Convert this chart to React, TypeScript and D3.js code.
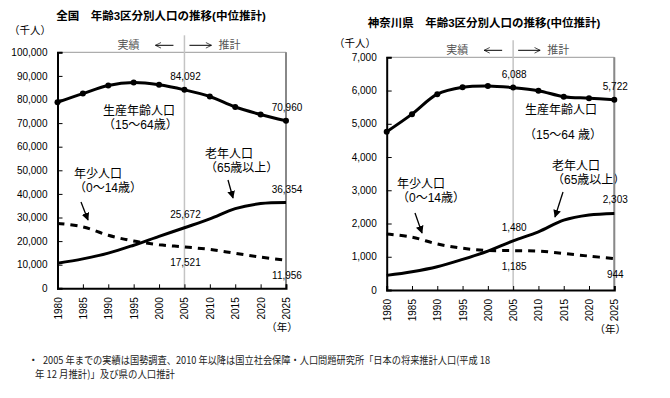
import { useRef, useEffect } from "react";
import * as d3 from "d3";

const YEARS = [1980, 1985, 1990, 1995, 2000, 2005, 2010, 2015, 2020, 2025];

// 全国 (千人)
const JP_WORKING = [78835, 82506, 85904, 87165, 86220, 84092, 81285, 76807, 73635, 70960];
const JP_ELDERLY = [10647, 12468, 14895, 18261, 22005, 25672, 29412, 33781, 35899, 36354];
const JP_YOUNG = [27507, 26033, 22486, 20014, 18472, 17521, 16479, 14841, 13201, 11956];
const JP_Y_TICKS = d3.range(0, 100001, 10000);

// 神奈川県 (千人)
const KN_WORKING = [4760, 5290, 5890, 6100, 6140, 6088, 5995, 5815, 5770, 5722];
const KN_ELDERLY = [440, 550, 700, 920, 1170, 1480, 1750, 2100, 2255, 2303];
const KN_YOUNG = [1685, 1590, 1385, 1255, 1190, 1185, 1170, 1100, 1020, 944];
const KN_Y_TICKS = d3.range(0, 7001, 1000);

const FONT = "'Liberation Sans', Arial, 'Noto Sans CJK JP', sans-serif";

interface Note {
  lines: string[];
  x: number;
  y: number;
  arrow: [number, number, number, number];
}

interface ChartProps {
  id: string;
  title: string;
  titleX: number;
  titleY: number;
  unitX: number;
  unitY: number;
  left: number;
  right: number;
  top: number;
  bottom: number;
  yMax: number;
  yTicks: number[];
  working: number[];
  elderly: number[];
  young: number[];
  workNote: { x: number; y: number; lines: string[] };
  oldNote: Note;
  youngNote: Note;
  labelYearMid: number;
}

function Chart(p: ChartProps) {
  const ref = useRef<SVGGElement>(null);

  useEffect(() => {
    const g = d3.select(ref.current);
    g.selectAll("*").remove();

    const x = d3.scaleLinear().domain([1980, 2025]).range([p.left, p.right]);
    const y = d3.scaleLinear().domain([0, p.yMax]).range([p.bottom, p.top]);

    // frame (top/right gray)
    g.append("path")
      .attr("d", `M${p.left},${p.top}H${p.right}V${p.bottom}`)
      .attr("fill", "none")
      .attr("stroke", "#999")
      .attr("stroke-width", 1);
    g.append("line")
      .attr("x1", p.right).attr("x2", p.right)
      .attr("y1", p.top).attr("y2", p.bottom)
      .attr("stroke", "#888").attr("stroke-width", 2);

    // 2005 divider
    g.append("line")
      .attr("x1", x(2005)).attr("x2", x(2005))
      .attr("y1", p.top - 17).attr("y2", p.bottom)
      .attr("stroke", "#c4c4c4").attr("stroke-width", 1.5);

    // axes
    g.append("g")
      .attr("transform", `translate(${p.left},0)`)
      .call(d3.axisLeft(y).tickValues(p.yTicks).tickSize(-5).tickPadding(10).tickFormat(d3.format(",")))
      .call((a) => a.select(".domain").attr("stroke", "#000").attr("stroke-width", 2))
      .call((a) => a.selectAll("line").attr("stroke", "#000"))
      .call((a) => a.selectAll("text").attr("fill", "#000").attr("font-size", "10px").attr("font-family", FONT));

    g.append("g")
      .attr("transform", `translate(0,${p.bottom})`)
      .call(d3.axisBottom(x).tickValues(YEARS).tickSize(-4).tickFormat(d3.format("d")))
      .call((a) => a.select(".domain").attr("stroke", "#000").attr("stroke-width", 2))
      .call((a) => a.selectAll("line").attr("stroke", "#000"))
      .call((a) =>
        a.selectAll("text")
          .attr("transform", "rotate(-90)")
          .attr("x", -9)
          .attr("y", 0)
          .attr("dy", "0.35em")
          .attr("text-anchor", "end")
          .attr("fill", "#000")
          .attr("font-size", "10px")
          .attr("font-family", FONT)
      );

    const pts = (vals: number[]) => YEARS.map((yr, i) => [x(yr), y(vals[i])] as [number, number]);
    const line = d3.line().curve(d3.curveCatmullRom.alpha(0.5));

    g.append("path")
      .attr("d", line(pts(p.young)))
      .attr("fill", "none")
      .attr("stroke", "#000")
      .attr("stroke-width", 3)
      .attr("stroke-dasharray", "7,6");

    g.append("path")
      .attr("d", line(pts(p.elderly)))
      .attr("fill", "none")
      .attr("stroke", "#000")
      .attr("stroke-width", 3);

    g.append("path")
      .attr("d", line(pts(p.working)))
      .attr("fill", "none")
      .attr("stroke", "#000")
      .attr("stroke-width", 3);

    g.selectAll("circle.m")
      .data(pts(p.working))
      .join("circle")
      .attr("class", "m")
      .attr("cx", (d) => d[0])
      .attr("cy", (d) => d[1])
      .attr("r", 3)
      .attr("fill", "#000");

    // value labels at 2005 and 2025
    const labels: { yr: number; v: number; dy: number }[] = [
      { yr: 2005, v: p.working[5], dy: -10 },
      { yr: 2025, v: p.working[9], dy: -10 },
      { yr: 2005, v: p.elderly[5], dy: -10 },
      { yr: 2025, v: p.elderly[9], dy: -10 },
      { yr: 2005, v: p.young[5], dy: 19 },
      { yr: 2025, v: p.young[9], dy: 19 },
    ];
    g.selectAll("text.v")
      .data(labels)
      .join("text")
      .attr("class", "v")
      .attr("x", (d) => x(d.yr) + 1)
      .attr("y", (d) => y(d.v) + d.dy)
      .attr("text-anchor", "middle")
      .attr("font-size", "10px")
      .attr("font-family", FONT)
      .text((d) => d3.format(",")(d.v));
  }, [p]);

  const arrowLine = (a: [number, number, number, number]) => (
    <line x1={a[0]} y1={a[1]} x2={a[2]} y2={a[3]} stroke="#000" strokeWidth={1.3} markerEnd={`url(#ah-${p.id})`} />
  );

  const midX = p.left + ((2005 - 1980) / 45) * (p.right - p.left);
  const headY = p.top - 7;

  return (
    <g fontFamily={FONT}>
      <defs>
        <marker id={`ah-${p.id}`} viewBox="0 0 10 10" refX="9" refY="5" markerWidth="6" markerHeight="6" orient="auto">
          <path d="M0,0L10,5L0,10z" fill="#000" />
        </marker>
        <marker id={`oh-${p.id}`} viewBox="0 0 10 10" refX="9" refY="5" markerWidth="7" markerHeight="7" orient="auto">
          <path d="M1,1L9,5L1,9" fill="none" stroke="#000" strokeWidth={1} />
        </marker>
      </defs>
      <text x={p.titleX} y={p.titleY} textAnchor="middle" fontSize={11.5} fontWeight="bold">{p.title}</text>
      <text x={p.unitX} y={p.unitY} textAnchor="middle" fontSize={10.5}>（千人）</text>
      <text x={p.right - 4} y={p.bottom + 43} textAnchor="middle" fontSize={10.5}>（年）</text>

      <text x={midX - 56} y={headY + 4} textAnchor="middle" fontSize={11} fill="#555">実績</text>
      <line x1={midX - 11} y1={headY} x2={midX - 29} y2={headY} stroke="#000" strokeWidth={1} markerEnd={`url(#oh-${p.id})`} />
      <line x1={midX + 5} y1={headY} x2={midX + 27} y2={headY} stroke="#000" strokeWidth={1} markerEnd={`url(#oh-${p.id})`} />
      <text x={midX + 45} y={headY + 4} textAnchor="middle" fontSize={11} fill="#555">推計</text>

      <g fontSize={12}>
        {p.workNote.lines.map((t, i) => (
          <text key={t} x={p.workNote.x} y={p.workNote.y + i * 14}>{t}</text>
        ))}
        {p.oldNote.lines.map((t, i) => (
          <text key={t} x={p.oldNote.x} y={p.oldNote.y + i * 14}>{t}</text>
        ))}
        {p.youngNote.lines.map((t, i) => (
          <text key={t} x={p.youngNote.x} y={p.youngNote.y + i * 14}>{t}</text>
        ))}
      </g>
      {arrowLine(p.oldNote.arrow)}
      {arrowLine(p.youngNote.arrow)}
      <g ref={ref} />
    </g>
  );
}

export default function App() {
  return (
    <svg width={670} height={398} style={{ position: "absolute", left: 0, top: 0, background: "#fff" }}>
      <Chart
        id="jp"
        title="全国　年齢3区分別人口の推移(中位推計)"
        titleX={161}
        titleY={20}
        unitX={30}
        unitY={34}
        left={57.5}
        right={286}
        top={52.3}
        bottom={288.3}
        yMax={100000}
        yTicks={JP_Y_TICKS}
        working={JP_WORKING}
        elderly={JP_ELDERLY}
        young={JP_YOUNG}
        labelYearMid={2005}
        workNote={{ x: 103, y: 115, lines: ["生産年齢人口", "（15～64歳）"] }}
        oldNote={{ x: 205, y: 158, lines: ["老年人口", "（65歳以上）"], arrow: [228, 180, 233, 198] }}
        youngNote={{ x: 74, y: 178, lines: ["年少人口", "（0～14歳）"], arrow: [81, 202, 88, 220] }}
      />
      <Chart
        id="kn"
        title="神奈川県　年齢3区分別人口の推移(中位推計)"
        titleX={484}
        titleY={27}
        unitX={355}
        unitY={47}
        left={386.7}
        right={614.3}
        top={57.3}
        bottom={290}
        yMax={7000}
        yTicks={KN_Y_TICKS}
        working={KN_WORKING}
        elderly={KN_ELDERLY}
        young={KN_YOUNG}
        labelYearMid={2005}
        workNote={{ x: 525, y: 114, lines: ["生産年齢人口"] }}
        oldNote={{ x: 552, y: 170, lines: ["老年人口", "（65歳以上）"], arrow: [563, 192, 555, 217] }}
        youngNote={{ x: 397, y: 188, lines: ["年少人口", "（0～14歳）"], arrow: [415, 213, 422, 233] }}
      />
      <text x={524} y={139} fontSize={12} fontFamily={FONT}>（15～64 歳）</text>
      <g fontFamily="'Noto Sans CJK JP', serif" fontSize={10.5} fill="#222">
        <text x={28} y={364}>・</text>
        <text x={43} y={364} textLength={447} lengthAdjust="spacingAndGlyphs">
          2005 年までの実績は国勢調査、2010 年以降は国立社会保障・人口問題研究所「日本の将来推計人口(平成 18
        </text>
        <text x={35} y={378} textLength={140} lengthAdjust="spacingAndGlyphs">年 12 月推計)」及び県の人口推計</text>
      </g>
    </svg>
  );
}
